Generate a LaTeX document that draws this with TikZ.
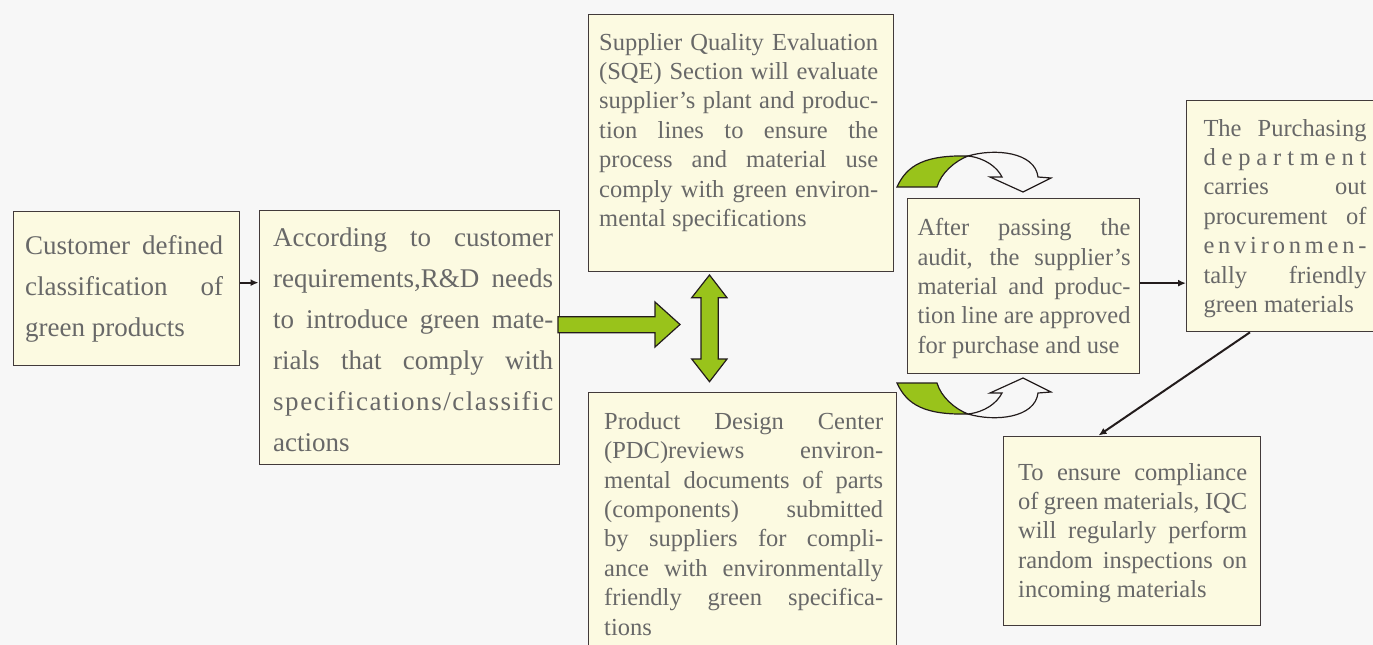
\documentclass[tikz,border=0pt]{standalone}
\usepackage{fontspec}
\setmainfont{Liberation Serif}
\usetikzlibrary{arrows.meta}

\definecolor{pagebg}{RGB}{247,247,247}
\definecolor{boxfill}{RGB}{252,250,225}
\definecolor{boxline}{RGB}{66,58,58}
\definecolor{txtgray}{RGB}{104,104,104}
\definecolor{leaf}{RGB}{153,195,27}
\definecolor{ink}{RGB}{35,28,28}

% one justified line, one ragged last line, one letter-spread line
\newcommand\jline[1]{\hbox to\linewidth{#1}}
\newcommand\rline[1]{\hbox{#1}}
\makeatletter
\newcommand\sline[1]{\hbox to\linewidth{\sp@read#1\@nil}}
\def\sp@read#1#2\@nil{#1\ifx\relax#2\relax\else\hfil\sp@read#2\@nil\fi}
\makeatother
\newcommand\bigtxt{\fontsize{27pt}{41pt}\selectfont}
\newcommand\smalltxt{\fontsize{24.5pt}{29.4pt}\selectfont}

\begin{document}
\begin{tikzpicture}[x=1pt, y=-1pt,
  box/.style={draw=boxline, line width=1.3pt, fill=boxfill, inner sep=0pt, anchor=north west},
  txt/.style={inner sep=0pt, anchor=base west, text=txtgray},
  link/.style={draw=ink, line width=2pt, -{Latex[length=8pt,width=7pt]}},
  blockarrow/.style={fill=leaf, draw=ink, line width=1.2pt, line join=miter},
  curl/.style={draw=ink, line width=1.2pt, line join=miter}]

\useasboundingbox[fill=pagebg] (0,0) rectangle (1373,645);

% boxes
\node[box, minimum width=226pt, minimum height=154pt] (a) at (13,211) {};
\node[box, minimum width=300pt, minimum height=254pt] (b) at (258.5,210) {};
\node[box, minimum width=305pt, minimum height=257.5pt] (c) at (587.5,13.5) {};
\node[box, minimum width=308pt, minimum height=290pt] (d) at (587.5,391.5) {};
\node[box, minimum width=232pt, minimum height=175pt] (e) at (907,197.5) {};
\node[box, minimum width=205pt, minimum height=231pt] (f) at (1186,100) {};
\node[box, minimum width=257.5pt, minimum height=189pt] (g) at (1002.5,435.5) {};

% texts
\node[txt] (a-t) at (25,254) {\parbox[t]{198pt}{\bigtxt
  \jline{Customer defined}
  \jline{classification of}
  \rline{green products}}};

\node[txt] (b-t) at (273,246.7) {\parbox[t]{280pt}{\bigtxt
  \jline{According to customer}
  \jline{requirements,R\&D needs}
  \jline{to introduce green mate-}
  \jline{rials that comply with}
  \sline{specifications/classific}
  \rline{actions}}};

\node[txt] (c-t) at (599,50) {\parbox[t]{279pt}{\smalltxt
  \jline{Supplier Quality Evaluation}
  \jline{(SQE) Section will evaluate}
  \jline{supplier’s plant and produc-}
  \jline{tion lines to ensure the}
  \jline{process and material use}
  \jline{comply with green environ-}
  \rline{mental specifications}}};

\node[txt] (d-t) at (604,429.3) {\parbox[t]{279pt}{\smalltxt
  \jline{Product Design Center}
  \jline{(PDC)reviews environ-}
  \jline{mental documents of parts}
  \jline{(components) submitted}
  \jline{by suppliers for compli-}
  \jline{ance with environmentally}
  \jline{friendly green specifica-}
  \rline{tions}}};

\node[txt] (e-t) at (917.3,235.7) {\parbox[t]{213pt}{\smalltxt
  \jline{After passing the}
  \jline{audit, the supplier’s}
  \jline{material and produc-}
  \jline{tion line are approved}
  \rline{for purchase and use}}};

\node[txt] (f-t) at (1203.3,136) {\parbox[t]{163pt}{\smalltxt
  \jline{The Purchasing}
  \sline{department}
  \jline{carries out}
  \jline{procurement of}
  \sline{environmen-}
  \jline{tally friendly}
  \rline{green materials}}};

\node[txt] (g-t) at (1018,480) {\parbox[t]{229pt}{\smalltxt
  \jline{To ensure compliance}
  \jline{of green materials, IQC}
  \jline{will regularly perform}
  \jline{random inspections on}
  \rline{incoming materials}}};

% thin connectors
\draw[link] ([yshift=6pt]a.east) -- ([yshift=6pt]a.east -| b.west);
\draw[link] ([yshift=2.5pt]e.east) -- ([yshift=2.5pt]e.east -| f.west);
\draw[link] ([xshift=64pt]f.south west) -- ([xshift=96pt]g.north west);

% green block arrows
\path[blockarrow] (558,316.7) -- (655,316.7) -- (655,302) -- (680,324.5)
  -- (655,347) -- (655,332.7) -- (558,332.7) -- cycle;
\path[blockarrow] (709.5,275) -- (727,297.7) -- (718.3,297.7) -- (718.3,359)
  -- (727,359) -- (709.5,381.7) -- (691.7,359) -- (701,359) -- (701,297.7)
  -- (691.7,297.7) -- cycle;

% curved arrow above the approval box
\path[curl, fill=leaf] (897,187) .. controls (907,165) and (925,155) .. (968,156)
  .. controls (955,161) and (941,173) .. (937,187) -- cycle;
\path[curl] (968,156) .. controls (995,148) and (1035,152) .. (1038,177)
  -- (1051,178) -- (1023,192) -- (990,177) -- (1002,177)
  .. controls (997,167) and (985,158) .. (968,156) -- cycle;

% curved arrow below the approval box
\path[curl, fill=leaf] (897,383) .. controls (907,405) and (925,415) .. (968,414)
  .. controls (955,409) and (941,397) .. (937,383) -- cycle;
\path[curl] (968,414) .. controls (995,422) and (1035,418) .. (1038,393)
  -- (1051,392) -- (1023,378) -- (990,393) -- (1002,393)
  .. controls (997,403) and (985,412) .. (968,414) -- cycle;

\end{tikzpicture}
\end{document}
